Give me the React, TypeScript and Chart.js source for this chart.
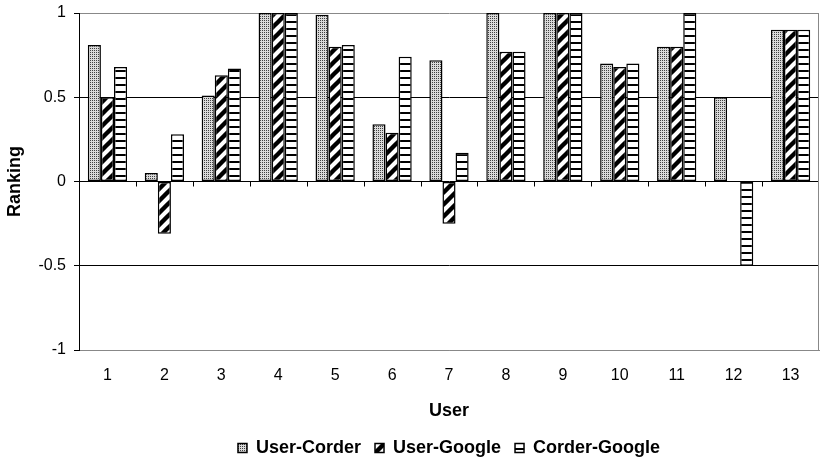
import React, { useEffect, useRef } from 'react';
import { Chart, registerables } from 'chart.js';

Chart.register(...registerables);

const categories = ['1', '2', '3', '4', '5', '6', '7', '8', '9', '10', '11', '12', '13'];
const seriesNames = ['User-Corder', 'User-Google', 'Corder-Google'];
const userCorder = [0.81, 0.05, 0.51, 1, 0.99, 0.34, 0.72, 1, 1, 0.7, 0.8, 0.5, 0.9];
const userGoogle = [0.5, -0.31, 0.63, 1, 0.8, 0.29, -0.25, 0.77, 1, 0.68, 0.8, 0, 0.9];
const corderGoogle = [0.68, 0.28, 0.67, 1, 0.81, 0.74, 0.17, 0.77, 1, 0.7, 1, -0.5, 0.9];
const yTicks = [-1, -0.5, 0, 0.5, 1];

const FONT = 'Arial, "Liberation Sans", sans-serif';

function makeTile(w: number, h: number, draw: (c: CanvasRenderingContext2D) => void): CanvasPattern {
  const cv = document.createElement('canvas');
  cv.width = w;
  cv.height = h;
  const c = cv.getContext('2d')!;
  draw(c);
  const ctx = document.createElement('canvas').getContext('2d')!;
  return ctx.createPattern(cv, 'repeat')!;
}

function dotPattern() {
  return makeTile(2, 2, (c) => {
    c.fillStyle = '#dadada';
    c.fillRect(0, 0, 2, 2);
    c.fillStyle = '#404040';
    c.fillRect(0, 0, 1, 1);
  });
}

function diagPattern() {
  const s = 12;
  return makeTile(s, s, (c) => {
    c.fillStyle = '#ffffff';
    c.fillRect(0, 0, s, s);
    c.strokeStyle = '#000000';
    c.lineWidth = 4.4;
    c.beginPath();
    c.moveTo(-2, s + 2);
    c.lineTo(s + 2, -2);
    c.moveTo(-s / 2 - 2, s / 2 + 2);
    c.lineTo(s / 2 + 2, -s / 2 - 2);
    c.moveTo(s / 2 - 2, s + s / 2 + 2);
    c.lineTo(s + s / 2 + 2, s / 2 - 2);
    c.stroke();
  });
}

function horizPattern() {
  return makeTile(4, 7, (c) => {
    c.fillStyle = '#ffffff';
    c.fillRect(0, 0, 4, 7);
    c.fillStyle = '#000000';
    c.fillRect(0, 0, 4, 2);
  });
}

const framePlugin = {
  id: 'frameTicks',
  beforeDatasetsDraw(chart: any) {
    const { ctx, chartArea, scales } = chart;
    const xs = scales.x;
    const ys = scales.y;
    ctx.save();
    ctx.strokeStyle = '#888888';
    ctx.lineWidth = 1;
    ctx.beginPath();
    ctx.moveTo(Math.round(chartArea.right) - 0.5, chartArea.top);
    ctx.lineTo(Math.round(chartArea.right) - 0.5, chartArea.bottom);
    ctx.stroke();
    const y0 = ys.getPixelForValue(0);
    const step = xs.getPixelForValue(1) - xs.getPixelForValue(0);
    ctx.strokeStyle = '#000000';
    ctx.beginPath();
    for (let i = 1; i < categories.length; i++) {
      const px = Math.round(xs.getPixelForValue(i) - step / 2) + 0.5;
      ctx.moveTo(px, y0);
      ctx.lineTo(px, y0 + 5);
    }
    ctx.stroke();
    ctx.restore();
  },
};

export default function App() {
  const ref = useRef<HTMLCanvasElement | null>(null);

  useEffect(() => {
    if (!ref.current) return;
    const patterns = [dotPattern(), diagPattern(), horizPattern()];
    const values = [userCorder, userGoogle, corderGoogle];
    const chart = new Chart(ref.current, {
      type: 'bar',
      data: {
        labels: categories,
        datasets: seriesNames.map((name, i) => ({
          label: name,
          data: values[i],
          backgroundColor: patterns[i],
          borderColor: '#000000',
          borderWidth: 1.5,
          borderSkipped: false,
          categoryPercentage: 0.69,
          barPercentage: 1,
        })),
      },
      options: {
        animation: false,
        responsive: false,
        devicePixelRatio: 1,
        layout: { padding: { top: 13, right: 2, left: 0, bottom: 0 } },
        font: { family: FONT },
        plugins: {
          tooltip: { enabled: false },
          legend: {
            position: 'bottom',
            fullSize: false,
            labels: {
              boxWidth: 9,
              boxHeight: 9,
              padding: 14,
              color: '#000000',
              font: { family: FONT, size: 18, weight: 'bold' },
            },
          },
        },
        scales: {
          x: {
            grid: { display: false, drawTicks: false },
            border: { display: true, color: '#888888', width: 1 },
            ticks: { color: '#000000', font: { family: FONT, size: 16 }, padding: 16, maxRotation: 0 },
            title: {
              display: true,
              text: 'User',
              color: '#000000',
              font: { family: FONT, size: 18, weight: 'bold' },
              padding: { top: 0, bottom: 3 },
            },
            afterFit: (s: any) => {
              s.height = 75;
            },
          },
          y: {
            min: -1,
            max: 1,
            afterBuildTicks: (s: any) => {
              s.ticks = yTicks.map((v) => ({ value: v }));
            },
            ticks: {
              color: '#000000',
              font: { family: FONT, size: 16 },
              padding: 8,
              callback: (v: any) => String(v),
            },
            grid: {
              color: (c: any) => (c.tick && Math.abs(c.tick.value) === 1 ? '#888888' : '#000000'),
              tickColor: '#000000',
              tickLength: 5,
              lineWidth: 1,
            },
            border: { color: '#000000', width: 1 },
            title: {
              display: true,
              text: 'Ranking',
              color: '#000000',
              font: { family: FONT, size: 18, weight: 'bold' },
              padding: { top: 4, bottom: 0 },
            },
            afterFit: (s: any) => {
              s.width = 79;
              s.paddingTop = 0;
              s.paddingBottom = 0;
            },
          },
        },
      },
      plugins: [framePlugin],
    });
    return () => chart.destroy();
  }, []);

  return (
    <div style={{ position: 'absolute', left: 0, top: 0, width: 821, height: 467, background: '#ffffff' }}>
      <canvas ref={ref} width={821} height={467} style={{ display: 'block', width: 821, height: 467 }} />
    </div>
  );
}
